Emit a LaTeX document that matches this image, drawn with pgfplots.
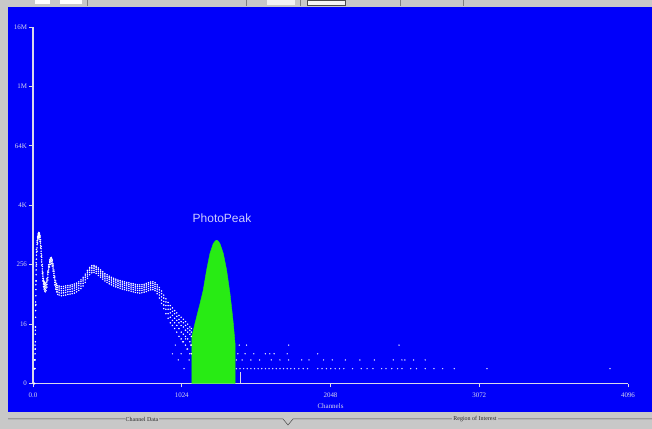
\documentclass[border=0pt]{standalone}
\usepackage{pgfplots}
\pgfplotsset{compat=1.18}
\usepackage{pgfplotstable}
\usepackage{fontspec}
\setmainfont{Liberation Serif}
\setsansfont{Liberation Sans}
\definecolor{bg}{RGB}{0,0,250}
\definecolor{gr}{RGB}{40,235,20}
\definecolor{ax}{RGB}{215,215,235}
\definecolor{panel}{RGB}{200,200,200}
\definecolor{pk}{RGB}{205,205,255}

\pgfplotstableread{
ch lo m1 mid m2 hi
10 1 1 1 2 2
12 1 2 2 3 3
14 2 3 4 5 6
16 5 7 10 12 14
18 14 22 30 38 45
20 40 60 80 100 120
22 120 160 200 240 280
24 260 330 400 460 520
28 480 560 650 720 780
32 700 780 850 900 950
36 850 920 1000 1050 1100
40 950 1010 1080 1120 1150
44 900 980 1050 1090 1120
48 750 820 900 950 1000
52 560 630 700 760 820
56 380 430 480 540 600
60 250 290 320 360 400
64 170 190 210 235 260
68 120 135 150 165 180
72 92 104 115 125 135
76 82 90 100 109 118
80 75 84 92 101 110
84 72 80 90 98 106
90 76 86 95 103 112
96 90 102 115 125 135
102 125 142 160 175 190
108 180 200 220 238 255
114 230 255 280 300 320
120 260 290 315 333 350
126 270 295 320 340 360
132 240 265 290 310 330
138 190 210 230 248 265
144 140 155 170 185 200
150 100 112 125 138 150
156 82 91 100 110 120
162 72 80 88 97 105
170 64 72 80 88 96
180 62 69 78 86 94
195 60 68 76 84 92
210 61 69 76 85 93
225 62 70 78 87 95
240 64 72 80 89 97
255 65 73 81 90 98
270 66 74 83 92 100
285 68 77 86 95 104
300 72 81 90 99 108
315 77 86 96 106 115
330 84 94 105 116 126
345 95 107 120 131 142
360 112 126 140 152 165
375 135 150 165 180 195
390 160 178 195 210 225
405 175 193 212 228 245
420 178 196 215 232 248
435 170 187 205 222 238
450 155 171 188 204 220
465 143 157 172 186 200
480 130 144 158 172 185
495 120 132 145 158 170
510 112 124 136 148 160
525 105 116 128 139 150
540 100 110 120 131 142
555 95 105 115 126 136
570 91 100 110 120 130
585 88 97 106 116 125
600 85 94 103 113 122
615 82 91 100 109 118
630 80 88 97 106 115
645 78 86 95 104 112
660 76 84 93 102 110
675 74 82 90 99 107
690 72 80 88 97 105
705 70 78 86 94 102
720 69 77 85 93 100
735 68 76 84 92 100
750 69 77 85 93 101
765 71 79 87 95 103
780 73 81 90 99 107
795 76 84 93 102 110
810 79 87 96 105 114
825 80 88 97 106 115
840 76 84 92 101 110
855 66 74 82 91 100
870 54 62 70 79 88
885 42 49 57 66 75
900 33 39 46 54 62
915 26 32 38 45 52
930 21 26 32 38 44
945 17 22 27 32 38
960 15 19 24 29 34
975 13 17 21 26 30
990 11 15 19 23 27
1005 9 13 17 20 24
1020 8 11 15 18 22
1035 7 10 14 17 20
1050 6 9 12 15 18
1065 5 8 11 13 16
1080 4 7 10 12 14
1090 4 6 9 11 13
}\spectrum

\begin{document}
\begin{tikzpicture}
\useasboundingbox (0,0) rectangle (652bp,429bp);
\fill[panel] (0,0) rectangle (652bp,429bp);
\fill[bg] (8bp,17bp) rectangle (652bp,422bp);
% top toolbar hints
\fill[white] (35bp,425bp) rectangle (50bp,429bp);
\fill[white] (60bp,425bp) rectangle (82bp,429bp);
\draw[gray] (87bp,423bp) -- (87bp,429bp);
\draw[gray] (246bp,423bp) -- (246bp,429bp);
\draw[gray] (300bp,423bp) -- (300bp,429bp);
\draw[gray] (400bp,423bp) -- (400bp,429bp);
\draw[gray] (463bp,423bp) -- (463bp,429bp);
\fill[white!90!gray] (267bp,424bp) rectangle (295bp,429bp);
\draw[gray!60!black, fill=white!92!gray] (307bp,424bp) rectangle (345bp,429bp);
% bottom panel
\draw[gray!55!black, line width=0.5bp] (8bp,10bp) -- (283bp,10bp) -- (288bp,4bp) -- (293bp,10bp) -- (652bp,10bp);
\node[fill=panel, inner sep=1bp, text=gray!30!black, font=\fontsize{6}{7}\selectfont] at (142bp,10bp) {Channel Data};
\node[fill=panel, inner sep=1bp, text=gray!30!black, font=\fontsize{6}{7}\selectfont] at (475bp,10bp) {Region of Interest};

\begin{axis}[
  at={(33bp,45.5bp)}, anchor=south west,
  scale only axis, width=595bp, height=356.5bp,
  xmin=0, xmax=4096,
  ymode=log, log basis y=2, ymin=1, ymax=16777216,
  axis x line=bottom, axis y line=left,
  axis line style={ax, line width=1.3bp, -},
  tick align=outside, major tick length=4bp,
  tick style={ax, line width=0.9bp},
  xtick={0,1024,2048,3072,4096},
  xticklabels={0.0,1024,2048,3072,4096},
  ytick={1,16,256,4096,65536,1048576,16777216},
  yticklabels={0,16,256,4K,64K,1M,16M},
  minor tick num=0,
  ticklabel style={font=\fontsize{7}{8}\selectfont, text=ax},
  xticklabel style={yshift=-2bp},
  yticklabel style={xshift=1.5bp},
  xlabel={Channels},
  xlabel style={font=\fontsize{7}{8}\selectfont, text=ax, yshift=1bp},
  /pgf/number format/assume math mode=true,
]
% photopeak
\addplot[fill=gr, draw=gr] coordinates {
(1093,1) (1093,9) (1104,12) (1115,16.5) (1132,26) (1150,42) (1172,78)
(1195,198) (1218,432) (1241,686) (1255,775) (1264,803) (1273,775)
(1287,686) (1310,432) (1333,198) (1356,67) (1368,33) (1379,16.5)
(1391,6.5) (1391,1)};
% spectrum band
\addplot[only marks, mark=*, mark size=0.5bp, white, draw=none] table[x=ch, y=lo] {\spectrum};
\addplot[only marks, mark=*, mark size=0.5bp, white, draw=none] table[x=ch, y=m1] {\spectrum};
\addplot[only marks, mark=*, mark size=0.5bp, white, draw=none] table[x=ch, y=mid] {\spectrum};
\addplot[only marks, mark=*, mark size=0.5bp, white, draw=none] table[x=ch, y=m2] {\spectrum};
\addplot[only marks, mark=*, mark size=0.5bp, white, draw=none] table[x=ch, y=hi] {\spectrum};
% low scattered counts
\addplot[only marks, mark=*, mark size=0.45bp, white!85!blue, draw=none] coordinates {
(960,4) (980,6) (1000,3) (1020,4) (1030,7) (1040,2) (1050,8) (1060,5) (1075,3) (1085,6)
(1400,2) (1425,2) (1450,2) (1475,2) (1500,2) (1525,2) (1550,2) (1575,2) (1600,2)
(1625,2) (1650,2) (1675,2) (1700,2) (1725,2) (1750,2) (1775,2) (1800,2) (1830,2)
(1860,2) (1890,2) (1960,2) (1990,2) (2020,2) (2050,2) (2080,2) (2110,2) (2140,2)
(2200,2) (2260,2) (2300,2) (2340,2) (2400,2) (2430,2) (2470,2) (2510,2) (2540,2)
(2600,2) (2640,2) (2700,2) (2760,2) (2820,2) (2900,2) (3125,2) (3972,2)
(1400,3) (1440,3) (1500,3) (1560,3) (1640,3) (1700,3) (1760,3) (1850,3) (1900,3)
(2000,3) (2060,3) (2150,3) (2250,3) (2350,3) (2480,3) (2540,3) (2560,3) (2620,3) (2700,3)
(1410,4) (1460,4) (1520,4) (1600,4) (1630,4) (1660,4) (1750,4) (1960,4)
(1420,6) (1470,6) (1760,6) (2520,6)};
% ROI marker
\addplot[ax, line width=0.8bp] coordinates {(1430,1) (1430,1.75)};
\node[text=pk, font=\sffamily\fontsize{12}{14}\selectfont] at (axis cs:1301,2240) {PhotoPeak};
\end{axis}
\end{tikzpicture}
\end{document}
